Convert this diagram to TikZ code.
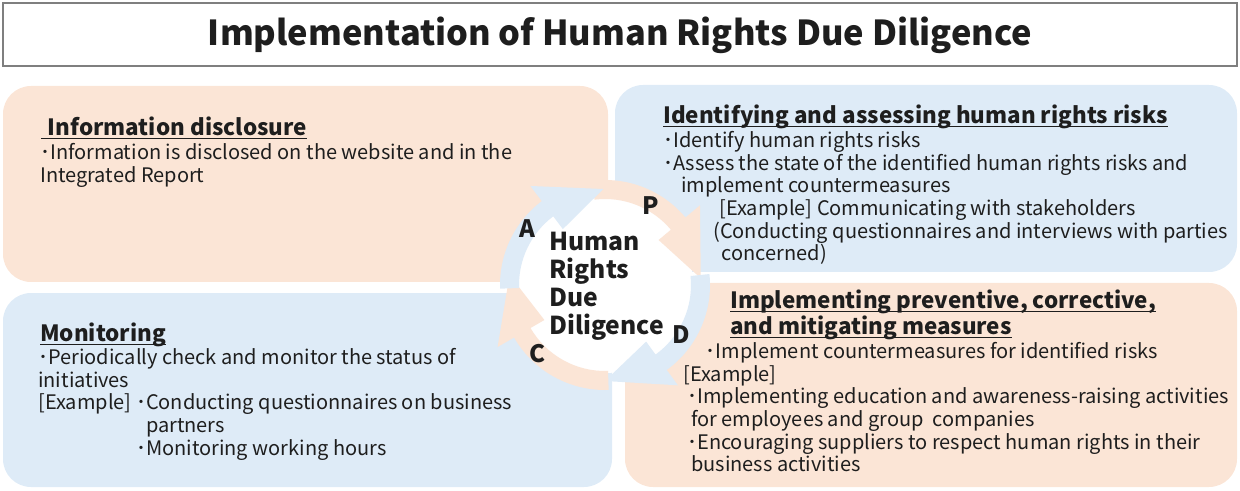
\documentclass[tikz,border=0pt]{standalone}
\usepackage{fontspec}
\setmainfont{Noto Sans CJK JP}

\newlength{\ulnwd}
\newcommand{\uln}[1]{\settowidth{\ulnwd}{#1}\rlap{\rule[-2.2pt]{\ulnwd}{0.8pt}}#1}

\definecolor{peach}{HTML}{FBE5D6}
\definecolor{paleblue}{HTML}{DEEBF7}
\definecolor{ink}{HTML}{1E1E1E}
\definecolor{frame}{HTML}{7F7F7F}

\tikzset{
  panel/.style = {rounded corners = 21pt},
  boxtext/.style = {anchor = north west, align = left, inner sep = 0pt, text = ink,
    font = \fontsize{15}{17}\selectfont},
  boxhead/.style = {anchor = north west, align = left, inner sep = 0pt, text = ink,
    font = \bfseries\fontsize{16.8}{19.5}\selectfont},
  pdca/.style = {inner sep = 0pt, text = ink, font = \bfseries\fontsize{18}{20}\selectfont}
}

\begin{document}
\begin{tikzpicture}[x = 0.75pt, y = 0.75pt]
    \useasboundingbox (0, 0) rectangle (1240, 490);
    % title
    \draw[frame, line width = 1.5pt] (3, 424) rectangle (1237, 487);
    \node[text = ink, font = \bfseries\fontsize{25.8}{30}\selectfont] (title) at (620, 455) {Implementation of Human Rights Due Diligence};
    % four panels
    \fill[peach, panel] (3, 208) rectangle (608, 404);
    \fill[paleblue, panel] (615, 218) rectangle (1237, 405);
    \fill[paleblue, panel] (3, 3) rectangle (612, 197);
    \fill[peach, panel] (625, 3) rectangle (1237, 207);
    % cycle in the middle
    \begin{scope}[shift = {(605, 205)}]
      \fill[white] (0, 0) circle[radius = 88];
      \fill[peach] (97:105) arc[start angle = 97, end angle = 40, radius = 105] -- (40:124) -- (4:96) -- (40:70) -- (40:86) arc[start angle = 40, end angle = 97, radius = 86] -- cycle;
      \fill[paleblue] (6:105) arc[start angle = 6, end angle = -54, radius = 105] -- (-54:124) -- (-90:96) -- (-54:70) -- (-54:86) arc[start angle = -54, end angle = 6, radius = 86] -- cycle;
      \fill[peach] (-88:105) arc[start angle = -88, end angle = -150, radius = 105] -- (-150:124) -- (-186:96) -- (-150:70) -- (-150:86) arc[start angle = -150, end angle = -88, radius = 86] -- cycle;
      \fill[paleblue] (182:105) arc[start angle = 182, end angle = 127, radius = 105] -- (127:124) -- (91:96) -- (127:70) -- (127:86) arc[start angle = 127, end angle = 182, radius = 86] -- cycle;
    \end{scope}
    \node[anchor = north west, align = left, inner sep = 0pt, text = ink, font = \bfseries\fontsize{18.5}{21}\selectfont] (hrdd) at (549, 258) {Human\\Rights\\Due\\Diligence};
    \node[pdca] (plan) at (651, 284) {P};
    \node[pdca] (do) at (681, 155) {D};
    \node[pdca] (check) at (537, 136) {C};
    \node[pdca] (act) at (527, 261) {A};
    % information disclosure
    \node[boxhead] (disclosure head) at (41, 373) {\uln{\hspace{5pt}Information disclosure}};
    \node[boxtext] (disclosure text) at (40, 347) {･Information is disclosed on the website and in the\\Integrated Report};
    % identifying and assessing
    \node[boxhead] (identify head) at (663, 385) {\uln{Identifying and assessing human rights risks}};
    \node[boxtext] (identify text) at (663, 359) {･Identify human rights risks\\
      ･Assess the state of the identified human rights risks and\\
      \hspace*{13.5pt}implement countermeasures\\
      \hspace*{42pt}[Example] Communicating with stakeholders\\
      \hspace*{37.5pt}(Conducting questionnaires and interviews with parties\\
      \hspace*{44pt}concerned)};
    % implementing measures
    \node[boxhead] (measures head) at (730, 200) {\uln{Implementing preventive, corrective,}\\\uln{and mitigating measures}};
    \node[boxtext] (measures text) at (683, 148) {\hspace*{17pt}･Implement countermeasures for identified risks\\
      {[Example]}\\
      \hspace*{3pt}･Implementing education and awareness-raising activities\\
      \hspace*{6pt}for employees and group\ \ companies\\
      \hspace*{3pt}･Encouraging suppliers to respect human rights in their\\
      \hspace*{6pt}business activities};
    % monitoring
    \node[boxhead] (monitoring head) at (40, 167) {\uln{Monitoring}};
    \node[boxtext] (monitoring text) at (38, 142) {･Periodically check and monitor the status of\\
      initiatives\\
      {[Example]} ･Conducting questionnaires on business\\
      \phantom{[Example]\ ･}partners\\
      \phantom{[Example]\ }･Monitoring working hours};
\end{tikzpicture}
\end{document}
